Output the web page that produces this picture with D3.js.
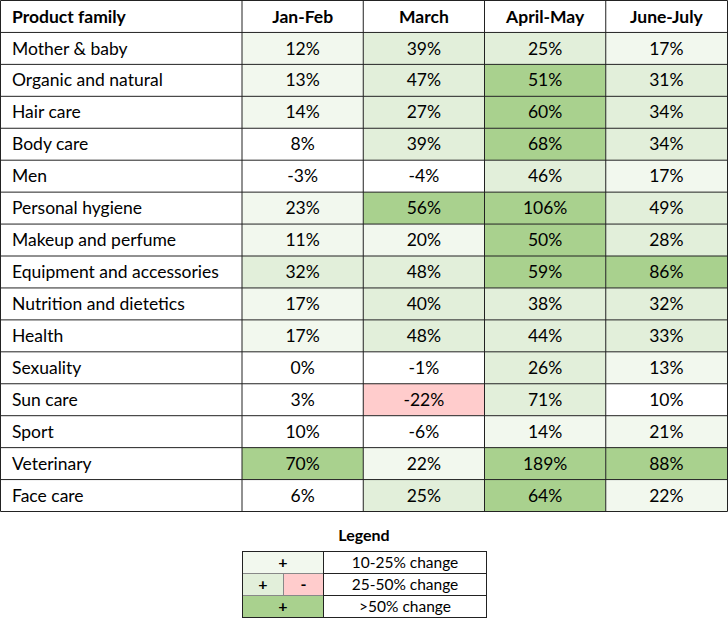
<!DOCTYPE html>
<html>
<head>
<meta charset="utf-8">
<script src="https://cdn.jsdelivr.net/npm/d3@7"></script>
<style>
  body { margin: 0; background: #fff; }
  svg text { font-family: Lato, "Open Sans", sans-serif; fill: #000; }
</style>
</head>
<body>
<svg id="chart" width="728" height="618"></svg>
<script>
const families = ["Mother & baby", "Organic and natural", "Hair care", "Body care", "Men",
  "Personal hygiene", "Makeup and perfume", "Equipment and accessories", "Nutrition and dietetics",
  "Health", "Sexuality", "Sun care", "Sport", "Veterinary", "Face care"];
const periods = ["Jan-Feb", "March", "April-May", "June-July"];

const janFeb   = [12, 13, 14, 8, -3, 23, 11, 32, 17, 17, 0, 3, 10, 70, 6];
const march    = [39, 47, 27, 39, -4, 56, 20, 48, 40, 48, -1, -22, -6, 22, 25];
const aprilMay = [25, 51, 60, 68, 46, 106, 50, 59, 38, 44, 26, 71, 14, 189, 64];
const juneJuly = [17, 31, 34, 34, 17, 49, 28, 86, 32, 33, 13, 10, 21, 88, 22];

// shading as it appears in the sheet: 0 none, 1 light, 2 mid, 3 strong, "neg" pink
const shadeJanFeb   = [1, 1, 1, 0, 0, 1, 1, 2, 1, 1, 0, 0, 0, 3, 0];
const shadeMarch    = [2, 2, 2, 2, 0, 3, 1, 2, 2, 2, 0, "neg", 0, 1, 2];
const shadeAprilMay = [2, 3, 3, 3, 2, 3, 3, 3, 2, 2, 2, 2, 1, 3, 3];
const shadeJuneJuly = [1, 2, 2, 2, 1, 2, 2, 3, 2, 2, 1, 0, 1, 3, 1];

const legendRows = ["10-25% change", "25-50% change", ">50% change"];

const values = [janFeb, march, aprilMay, juneJuly];
const shades = [shadeJanFeb, shadeMarch, shadeAprilMay, shadeJuneJuly];

const FS = 17.5;
const svg = d3.select("#chart");
const fill = d3.scaleOrdinal()
  .domain([0, 1, 2, 3, "neg"])
  .range(["#ffffff", "#f2f8ee", "#e2efda", "#a9d18e", "#ffcccc"]);

const y = d3.scaleBand().domain(d3.range(families.length + 1)).range([0.5, 511.5]);
const x = d3.scaleBand().domain(periods).range([242, 727]);
const labelX0 = 0.5;

const table = svg.append("g");

// header
table.append("text")
  .attr("x", 12).attr("y", y(0) + y.bandwidth() / 2)
  .attr("dy", "0.35em").attr("font-weight", "bold").attr("font-size", FS)
  .text("Product family");
table.selectAll(".head").data(periods).join("text")
  .attr("x", d => x(d) + x.bandwidth() / 2).attr("y", y(0) + y.bandwidth() / 2)
  .attr("dy", "0.35em").attr("text-anchor", "middle").attr("font-weight", "bold").attr("font-size", FS)
  .text(d => d);

// cells
periods.forEach((p, j) => {
  const g = table.append("g");
  g.selectAll("rect").data(values[j]).join("rect")
    .attr("x", x(p)).attr("y", (d, i) => y(i + 1))
    .attr("width", x.bandwidth()).attr("height", y.bandwidth())
    .attr("fill", (d, i) => fill(shades[j][i]));
  g.selectAll("text").data(values[j]).join("text")
    .attr("x", x(p) + x.bandwidth() / 2).attr("y", (d, i) => y(i + 1) + y.bandwidth() / 2)
    .attr("dy", "0.35em").attr("text-anchor", "middle").attr("font-size", FS)
    .text(d => d + "%");
});

table.selectAll(".fam").data(families).join("text")
  .attr("x", 12).attr("y", (d, i) => y(i + 1) + y.bandwidth() / 2)
  .attr("dy", "0.35em").attr("font-size", FS)
  .text(d => d);

// grid lines
const grid = table.append("g").attr("stroke", "#222").attr("stroke-width", 1);
d3.range(families.length + 2).forEach(i => {
  const yy = i <= families.length ? y(i) : y.range()[1];
  grid.append("line").attr("x1", labelX0).attr("x2", 727.5).attr("y1", yy).attr("y2", yy);
});
[labelX0, 242, ...periods.slice(1).map(p => x(p)), 727.5].forEach(xx => {
  grid.append("line").attr("x1", xx).attr("x2", xx).attr("y1", y.range()[0]).attr("y2", y.range()[1]);
});

// legend
const leg = svg.append("g");
leg.append("text").attr("x", 364).attr("y", 535).attr("dy", "0.35em")
  .attr("text-anchor", "middle").attr("font-weight", "bold").attr("font-size", 16).text("Legend");

const ly = d3.scaleBand().domain(legendRows).range([551.5, 617.5]);
const lx0 = 242.5, lx1 = 323.5, lx2 = 486.5;
const swatches = [
  [{ x0: lx0, x1: lx1, s: 1, t: "+" }],
  [{ x0: lx0, x1: 283.5, s: 2, t: "+" }, { x0: 283.5, x1: lx1, s: "neg", t: "-" }],
  [{ x0: lx0, x1: lx1, s: 3, t: "+" }]
];
legendRows.forEach((r, i) => {
  swatches[i].forEach(sw => {
    leg.append("rect").attr("x", sw.x0).attr("y", ly(r)).attr("width", sw.x1 - sw.x0).attr("height", ly.bandwidth())
      .attr("fill", fill(sw.s)).attr("stroke", "#888");
    leg.append("text").attr("x", (sw.x0 + sw.x1) / 2).attr("y", ly(r) + ly.bandwidth() / 2).attr("dy", "0.35em")
      .attr("text-anchor", "middle").attr("font-weight", "bold").attr("font-size", 16).text(sw.t);
  });
  leg.append("rect").attr("x", lx1).attr("y", ly(r)).attr("width", lx2 - lx1).attr("height", ly.bandwidth())
    .attr("fill", "none").attr("stroke", "#222");
  leg.append("text").attr("x", (lx1 + lx2) / 2).attr("y", ly(r) + ly.bandwidth() / 2).attr("dy", "0.35em")
    .attr("text-anchor", "middle").attr("font-size", 15.5).text(r);
});
leg.append("rect").attr("x", lx0).attr("y", 551.5).attr("width", lx2 - lx0).attr("height", 66)
  .attr("fill", "none").attr("stroke", "#222");
</script>
</body>
</html>
